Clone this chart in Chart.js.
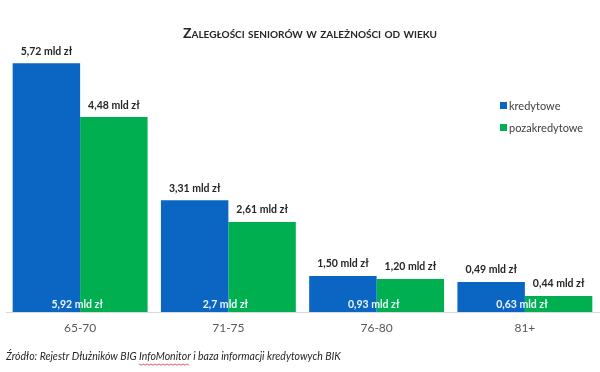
<!DOCTYPE html>
<html>
<head>
<meta charset="utf-8">
<script src="https://cdn.jsdelivr.net/npm/chart.js@4"></script>
<style>
  html, body { margin: 0; padding: 0; background: #fff; }
  #wrap { width: 600px; height: 372px; }
</style>
</head>
<body>
<div id="wrap"><canvas id="chart" width="600" height="372"></canvas></div>
<script>
// --- DATA ---
const categories = ['65-70', '71-75', '76-80', '81+'];
const seriesNames = ['kredytowe', 'pozakredytowe'];
// bar heights as drawn in the picture (the source chart is not to scale with its labels)
const kredytoweBars = [5.72, 2.57, 0.83, 0.69];
const pozakredytoweBars = [4.48, 2.07, 0.76, 0.37];
// labels printed above the bars
const kredytoweLabels = ['5,72 mld zł', '3,31 mld zł', '1,50 mld zł', '0,49 mld zł'];
const pozakredytoweLabels = ['4,48 mld zł', '2,61 mld zł', '1,20 mld zł', '0,44 mld zł'];
// white labels at the foot of each group
const footLabels = ['5,92 mld zł', '2,7 mld zł', '0,93 mld zł', '0,63 mld zł'];

const titleText = 'Zaległości seniorów w zależności od wieku';
const sourceText = 'Źródło: Rejestr Dłużników BIG InfoMonitor i baza informacji kredytowych BIK';

const FONT = 'Lato, "Open Sans", sans-serif';
const colors = ['#0a66c2', '#00b050'];

// --- EXTRA DRAWING (title, labels, legend, source) ---
const decorations = {
    id: 'decorations',
    afterDatasetsDraw(chart) {
        const ctx = chart.ctx;
        const labelSets = [kredytoweLabels, pozakredytoweLabels];
        ctx.save();
        ctx.textAlign = 'center';
        ctx.textBaseline = 'middle';

        // value labels above the bars
        ctx.font = 'bold 10.5px ' + FONT;
        ctx.fillStyle = '#262626';
        chart.data.datasets.forEach((ds, d) => {
            chart.getDatasetMeta(d).data.forEach((bar, i) => {
                ctx.fillText(labelSets[d][i], bar.x, bar.y - 12);
            });
        });

        // foot labels between the two bars
        const xScale = chart.scales.x;
        const bottom = chart.chartArea.bottom;
        ctx.fillStyle = '#eaf5ff';
        footLabels.forEach((t, i) => {
            ctx.fillText(t, xScale.getPixelForValue(i) - 3, bottom - 7);
        });

        // title
        ctx.font = 'small-caps bold 14px ' + FONT;
        ctx.fillStyle = '#262626';
        ctx.fillText(titleText, 310, 33);

        // legend
        ctx.textAlign = 'left';
        ctx.font = '11px ' + FONT;
        seriesNames.forEach((name, i) => {
            const y = 106 + i * 22;
            ctx.fillStyle = colors[i];
            ctx.fillRect(500, y - 4, 7, 7);
            ctx.fillStyle = '#404040';
            ctx.fillText(name, 509, y);
        });

        // source note
        ctx.font = 'italic 10.5px ' + FONT;
        ctx.fillStyle = '#262626';
        ctx.fillText(sourceText, 6, 357);

        // spell-check squiggle under "InfoMonitor"
        const pre = sourceText.slice(0, sourceText.indexOf('InfoMonitor'));
        const x0 = 6 + ctx.measureText(pre).width;
        const w = ctx.measureText('InfoMonitor').width;
        ctx.strokeStyle = '#e03030';
        ctx.lineWidth = 0.8;
        ctx.beginPath();
        for (let x = 0; x <= w; x += 2) {
            const yy = 364 + ((x / 2) % 2 === 0 ? 0 : 1.2);
            if (x === 0) ctx.moveTo(x0 + x, yy); else ctx.lineTo(x0 + x, yy);
        }
        ctx.stroke();
        ctx.restore();
    }
};

new Chart(document.getElementById('chart'), {
    type: 'bar',
    data: {
        labels: categories,
        datasets: [
            { label: seriesNames[0], data: kredytoweBars, backgroundColor: colors[0] },
            { label: seriesNames[1], data: pozakredytoweBars, backgroundColor: colors[1] }
        ]
    },
    options: {
        responsive: false,
        animation: false,
        layout: { padding: { left: 6, right: 1, top: 51, bottom: 0 } },
        datasets: { bar: { categoryPercentage: 0.91, barPercentage: 1 } },
        plugins: {
            legend: { display: false },
            tooltip: { enabled: false }
        },
        scales: {
            x: {
                grid: { display: false, drawTicks: false },
                border: { display: true, color: '#d9d9d9' },
                ticks: { color: '#595959', font: { family: FONT, size: 12 }, padding: 9 },
                afterFit: s => { s.height = 60; }
            },
            y: {
                display: false,
                min: 0,
                max: 6
            }
        }
    },
    plugins: [decorations]
});
</script>
</body>
</html>
